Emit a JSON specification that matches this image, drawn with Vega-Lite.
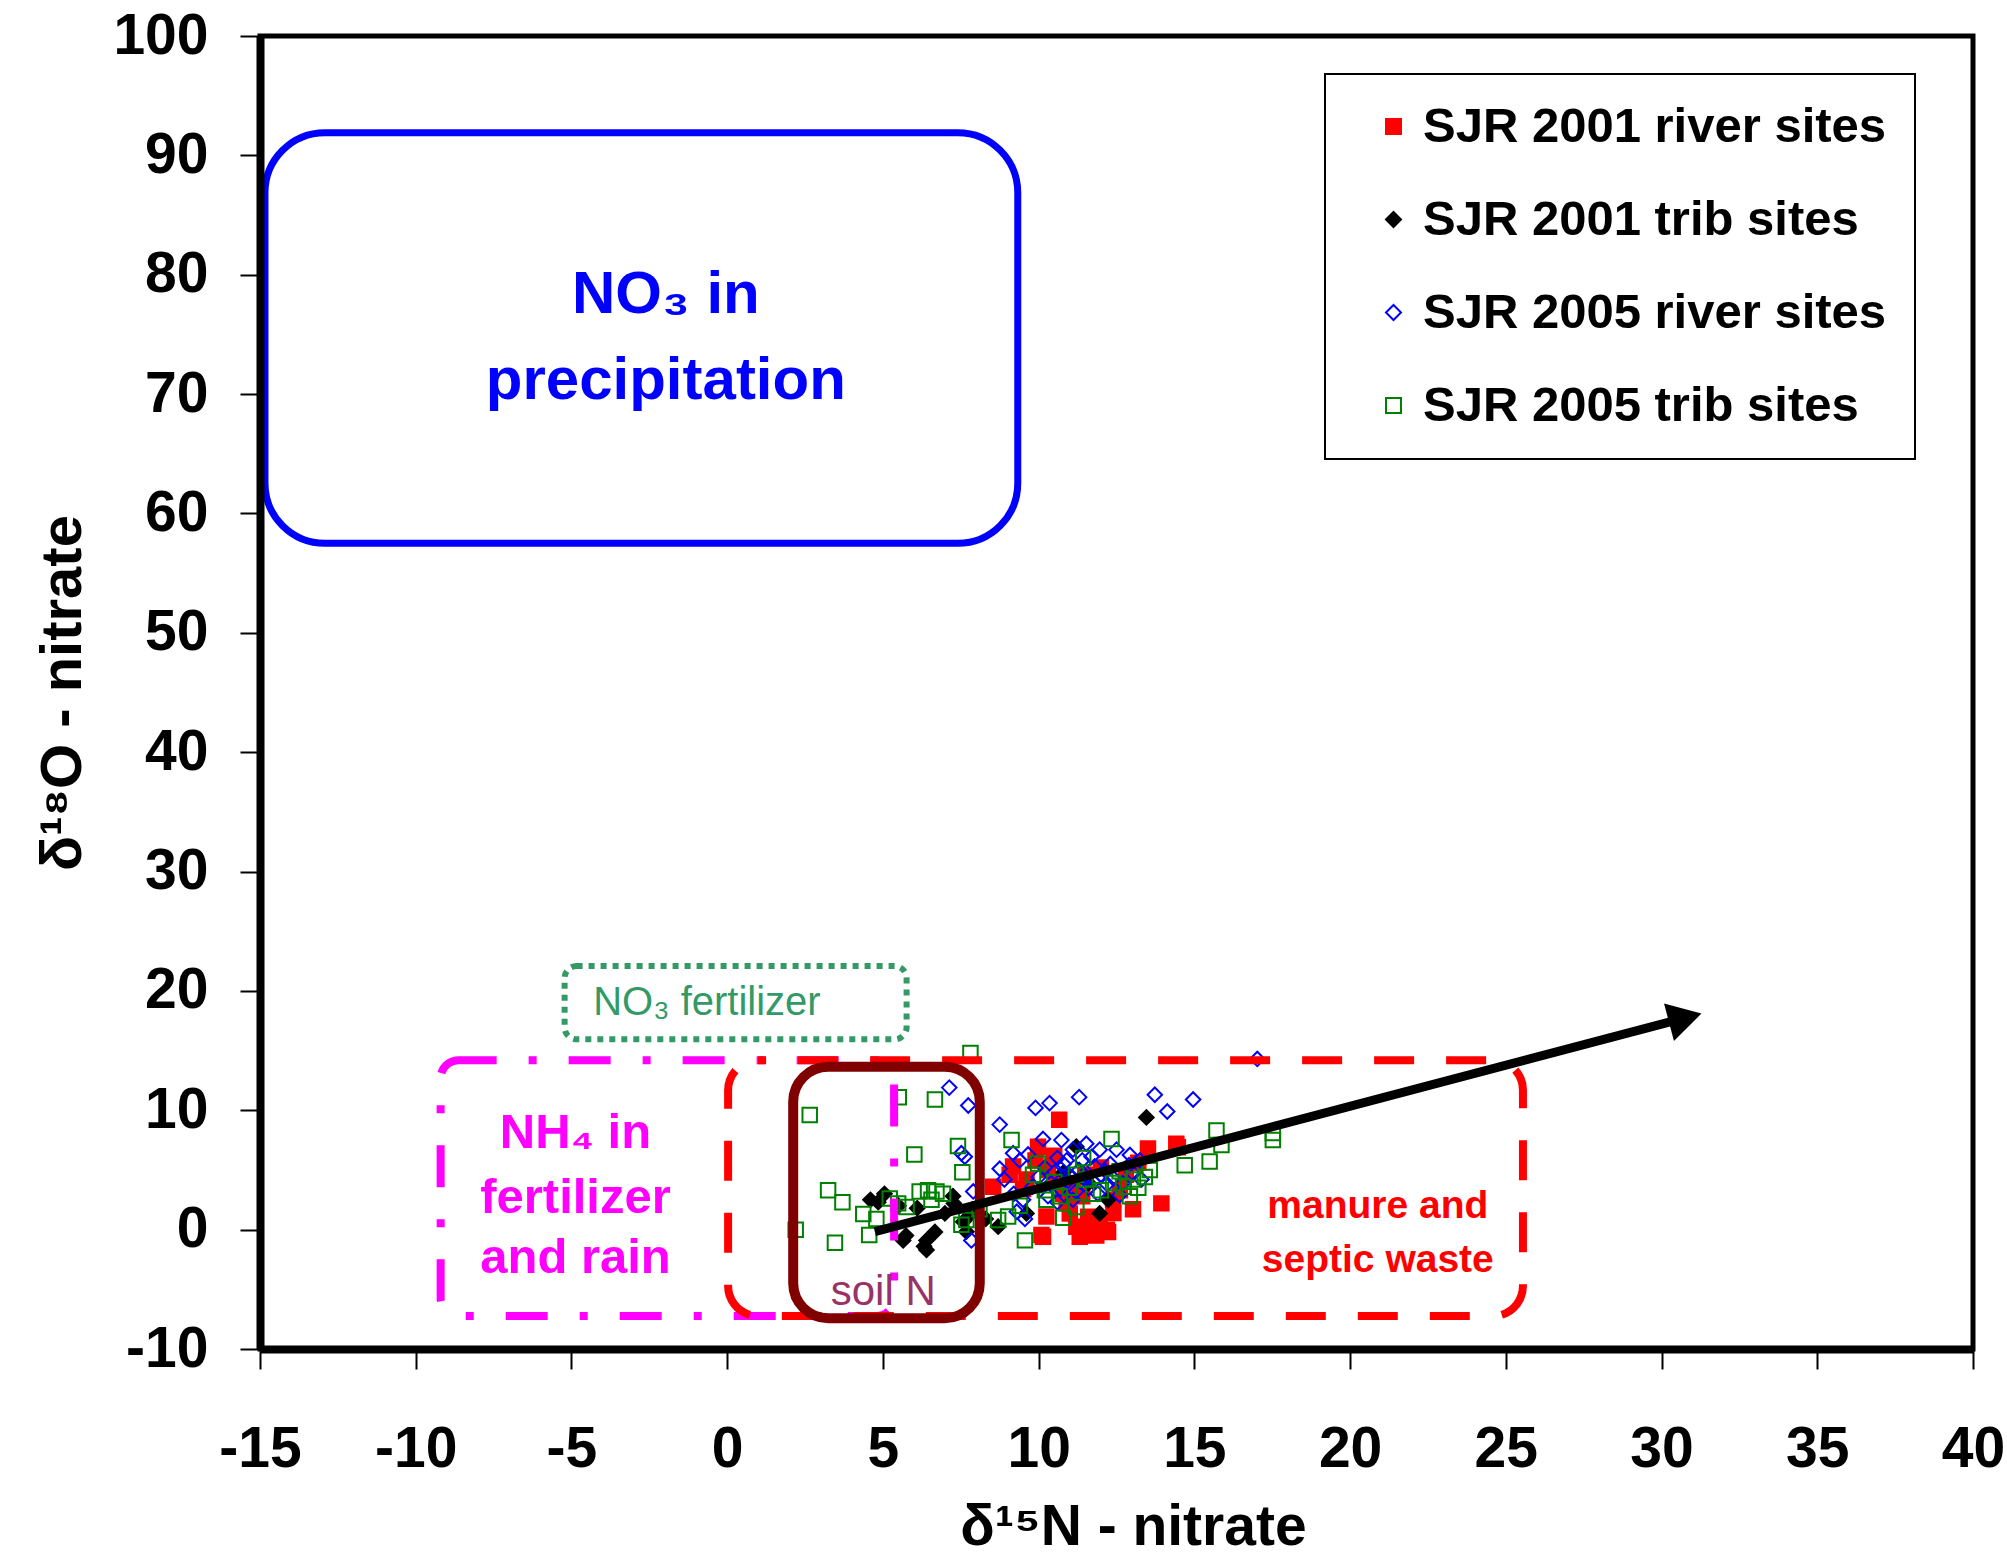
{
  "$schema": "https://vega.github.io/schema/vega-lite/v6.json",
  "width": 1713,
  "height": 1313,
  "autosize": {"type": "none"},
  "padding": {"left": 260, "top": 36, "right": 34, "bottom": 210},
  "background": "white",
  "config": {
    "font": "Liberation Sans",
    "view": {"stroke": "black", "strokeWidth": 5},
    "legend": {
      "orient": "none",
      "legendX": 1065,
      "legendY": 38,
      "strokeColor": "black",
      "strokeWidth": 2,
      "fillColor": "white",
      "padding": 28,
      "labelFont": "Liberation Sans",
      "labelFontSize": 49,
      "labelFontWeight": "bold",
      "labelColor": "black",
      "labelLimit": 0,
      "symbolSize": 225,
      "symbolStrokeWidth": 2,
      "rowPadding": 43,
      "symbolOffset": 16,
      "labelOffset": 5
    }
  },
  "datasets": {
    "pts": [
      {"series": "SJR 2001 river sites", "x": 10.66, "y": 9.2},
      {"series": "SJR 2001 river sites", "x": 9.98, "y": 6.95},
      {"series": "SJR 2001 river sites", "x": 9.07, "y": 4.6},
      {"series": "SJR 2001 river sites", "x": 8.54, "y": 3.6},
      {"series": "SJR 2001 river sites", "x": 10.14, "y": -0.6},
      {"series": "SJR 2001 river sites", "x": 10.25, "y": 1.1},
      {"series": "SJR 2001 river sites", "x": 11.21, "y": 0.25},
      {"series": "SJR 2001 river sites", "x": 11.32, "y": -0.6},
      {"series": "SJR 2001 river sites", "x": 11.75, "y": -0.3},
      {"series": "SJR 2001 river sites", "x": 12.23, "y": -0.2},
      {"series": "SJR 2001 river sites", "x": 11.0, "y": 1.36},
      {"series": "SJR 2001 river sites", "x": 11.59, "y": 1.08},
      {"series": "SJR 2001 river sites", "x": 11.96, "y": 0.5},
      {"series": "SJR 2001 river sites", "x": 13.03, "y": 1.7},
      {"series": "SJR 2001 river sites", "x": 13.94, "y": 2.2},
      {"series": "SJR 2001 river sites", "x": 13.51, "y": 6.8},
      {"series": "SJR 2001 river sites", "x": 14.42, "y": 7.2},
      {"series": "SJR 2001 river sites", "x": 9.18, "y": 5.3},
      {"series": "SJR 2001 river sites", "x": 9.61, "y": 4.2},
      {"series": "SJR 2001 river sites", "x": 10.57, "y": 4.2},
      {"series": "SJR 2001 river sites", "x": 10.79, "y": 3.0},
      {"series": "SJR 2001 river sites", "x": 11.11, "y": 3.6},
      {"series": "SJR 2001 river sites", "x": 12.39, "y": 2.5},
      {"series": "SJR 2001 river sites", "x": 12.61, "y": 3.3},
      {"series": "SJR 2001 river sites", "x": 10.09, "y": -0.45},
      {"series": "SJR 2001 river sites", "x": 12.19, "y": 0.0},
      {"series": "SJR 2001 river sites", "x": 14.47, "y": 6.9},
      {"series": "SJR 2001 river sites", "x": 9.9, "y": 5.8},
      {"series": "SJR 2001 river sites", "x": 10.3, "y": 5.0},
      {"series": "SJR 2001 river sites", "x": 11.5, "y": 4.6},
      {"series": "SJR 2001 river sites", "x": 12.0, "y": 5.2},
      {"series": "SJR 2001 river sites", "x": 12.8, "y": 4.6},
      {"series": "SJR 2001 river sites", "x": 10.9, "y": 2.2},
      {"series": "SJR 2001 river sites", "x": 11.4, "y": 2.8},
      {"series": "SJR 2001 river sites", "x": 12.4, "y": 1.4},
      {"series": "SJR 2001 river sites", "x": 13.2, "y": 5.6},
      {"series": "SJR 2001 river sites", "x": 9.5, "y": 3.4},
      {"series": "SJR 2001 river sites", "x": 10.5, "y": 6.2},
      {"series": "SJR 2001 river sites", "x": 11.85, "y": -0.5},
      {"series": "SJR 2001 river sites", "x": 11.45, "y": 0.1},
      {"series": "SJR 2001 trib sites", "x": 13.46, "y": 9.4},
      {"series": "SJR 2001 trib sites", "x": 4.6, "y": 2.5},
      {"series": "SJR 2001 trib sites", "x": 5.05, "y": 3.0},
      {"series": "SJR 2001 trib sites", "x": 4.85, "y": 2.3},
      {"series": "SJR 2001 trib sites", "x": 5.65, "y": -0.9},
      {"series": "SJR 2001 trib sites", "x": 6.4, "y": -0.9},
      {"series": "SJR 2001 trib sites", "x": 6.4, "y": -1.7},
      {"series": "SJR 2001 trib sites", "x": 6.67, "y": -0.2},
      {"series": "SJR 2001 trib sites", "x": 5.74, "y": -0.5},
      {"series": "SJR 2001 trib sites", "x": 6.32, "y": -1.4},
      {"series": "SJR 2001 trib sites", "x": 7.25, "y": 2.8},
      {"series": "SJR 2001 trib sites", "x": 7.28, "y": 2.2},
      {"series": "SJR 2001 trib sites", "x": 7.58, "y": 0.66},
      {"series": "SJR 2001 trib sites", "x": 7.68, "y": -0.17},
      {"series": "SJR 2001 trib sites", "x": 7.84, "y": 1.36},
      {"series": "SJR 2001 trib sites", "x": 6.99, "y": 1.36},
      {"series": "SJR 2001 trib sites", "x": 8.7, "y": 0.25},
      {"series": "SJR 2001 trib sites", "x": 11.96, "y": 1.36},
      {"series": "SJR 2001 trib sites", "x": 12.23, "y": 2.5},
      {"series": "SJR 2001 trib sites", "x": 9.61, "y": 1.36},
      {"series": "SJR 2001 trib sites", "x": 11.21, "y": 6.95},
      {"series": "SJR 2001 trib sites", "x": 5.5, "y": 2.0},
      {"series": "SJR 2001 trib sites", "x": 6.1, "y": 1.8},
      {"series": "SJR 2001 trib sites", "x": 10.8, "y": 4.8},
      {"series": "SJR 2001 trib sites", "x": 11.6, "y": 3.9},
      {"series": "SJR 2001 trib sites", "x": 8.3, "y": 0.9},
      {"series": "SJR 2005 river sites", "x": 7.13, "y": 11.9},
      {"series": "SJR 2005 river sites", "x": 7.74, "y": 10.4},
      {"series": "SJR 2005 river sites", "x": 8.75, "y": 8.8},
      {"series": "SJR 2005 river sites", "x": 9.9, "y": 10.2},
      {"series": "SJR 2005 river sites", "x": 10.35, "y": 10.6},
      {"series": "SJR 2005 river sites", "x": 11.3, "y": 11.1},
      {"series": "SJR 2005 river sites", "x": 13.73, "y": 11.3},
      {"series": "SJR 2005 river sites", "x": 14.13, "y": 9.9},
      {"series": "SJR 2005 river sites", "x": 14.96, "y": 10.9},
      {"series": "SJR 2005 river sites", "x": 17.02, "y": 14.3},
      {"series": "SJR 2005 river sites", "x": 10.14, "y": 7.6},
      {"series": "SJR 2005 river sites", "x": 10.73, "y": 7.5},
      {"series": "SJR 2005 river sites", "x": 7.52, "y": 6.4},
      {"series": "SJR 2005 river sites", "x": 7.63, "y": 6.1},
      {"series": "SJR 2005 river sites", "x": 8.75, "y": 5.1},
      {"series": "SJR 2005 river sites", "x": 7.9, "y": 3.2},
      {"series": "SJR 2005 river sites", "x": 7.84, "y": -0.9},
      {"series": "SJR 2005 river sites", "x": 9.56, "y": 0.9},
      {"series": "SJR 2005 river sites", "x": 9.18, "y": 6.4},
      {"series": "SJR 2005 river sites", "x": 9.39, "y": 5.8},
      {"series": "SJR 2005 river sites", "x": 9.66, "y": 6.3},
      {"series": "SJR 2005 river sites", "x": 11.53, "y": 7.2},
      {"series": "SJR 2005 river sites", "x": 11.96, "y": 6.7},
      {"series": "SJR 2005 river sites", "x": 12.5, "y": 6.7},
      {"series": "SJR 2005 river sites", "x": 12.93, "y": 6.25},
      {"series": "SJR 2005 river sites", "x": 13.25, "y": 5.8},
      {"series": "SJR 2005 river sites", "x": 11.1, "y": 6.7},
      {"series": "SJR 2005 river sites", "x": 10.9, "y": 5.8},
      {"series": "SJR 2005 river sites", "x": 10.2, "y": 5.2},
      {"series": "SJR 2005 river sites", "x": 10.5, "y": 4.8},
      {"series": "SJR 2005 river sites", "x": 10.8, "y": 5.5},
      {"series": "SJR 2005 river sites", "x": 11.0, "y": 4.5},
      {"series": "SJR 2005 river sites", "x": 11.3, "y": 5.0},
      {"series": "SJR 2005 river sites", "x": 11.5, "y": 4.2},
      {"series": "SJR 2005 river sites", "x": 11.8, "y": 5.3},
      {"series": "SJR 2005 river sites", "x": 12.0, "y": 4.6},
      {"series": "SJR 2005 river sites", "x": 12.2, "y": 3.8},
      {"series": "SJR 2005 river sites", "x": 10.4, "y": 3.9},
      {"series": "SJR 2005 river sites", "x": 10.7, "y": 3.4},
      {"series": "SJR 2005 river sites", "x": 11.2, "y": 3.2},
      {"series": "SJR 2005 river sites", "x": 11.6, "y": 3.5},
      {"series": "SJR 2005 river sites", "x": 11.9, "y": 3.0},
      {"series": "SJR 2005 river sites", "x": 12.4, "y": 4.3},
      {"series": "SJR 2005 river sites", "x": 12.7, "y": 3.9},
      {"series": "SJR 2005 river sites", "x": 13.0, "y": 4.8},
      {"series": "SJR 2005 river sites", "x": 13.3, "y": 4.2},
      {"series": "SJR 2005 river sites", "x": 10.0, "y": 4.4},
      {"series": "SJR 2005 river sites", "x": 9.8, "y": 3.6},
      {"series": "SJR 2005 river sites", "x": 10.3, "y": 2.8},
      {"series": "SJR 2005 river sites", "x": 11.4, "y": 5.8},
      {"series": "SJR 2005 river sites", "x": 12.3, "y": 5.5},
      {"series": "SJR 2005 river sites", "x": 11.1, "y": 2.5},
      {"series": "SJR 2005 river sites", "x": 12.6, "y": 2.9},
      {"series": "SJR 2005 river sites", "x": 9.5, "y": 2.5},
      {"series": "SJR 2005 river sites", "x": 10.6, "y": 6.0},
      {"series": "SJR 2005 river sites", "x": 11.7, "y": 6.1},
      {"series": "SJR 2005 river sites", "x": 12.9, "y": 5.4},
      {"series": "SJR 2005 river sites", "x": 8.9, "y": 4.2},
      {"series": "SJR 2005 river sites", "x": 9.2, "y": 3.0},
      {"series": "SJR 2005 river sites", "x": 10.95, "y": 4.1},
      {"series": "SJR 2005 river sites", "x": 11.45, "y": 4.6},
      {"series": "SJR 2005 river sites", "x": 11.75, "y": 4.0},
      {"series": "SJR 2005 river sites", "x": 12.15, "y": 4.9},
      {"series": "SJR 2005 river sites", "x": 10.6, "y": 2.3},
      {"series": "SJR 2005 river sites", "x": 9.3, "y": 1.5},
      {"series": "SJR 2005 trib sites", "x": 2.65, "y": 9.6},
      {"series": "SJR 2005 trib sites", "x": 5.51, "y": 11.1},
      {"series": "SJR 2005 trib sites", "x": 6.67, "y": 10.9},
      {"series": "SJR 2005 trib sites", "x": 7.81, "y": 14.8},
      {"series": "SJR 2005 trib sites", "x": 6.01, "y": 6.3},
      {"series": "SJR 2005 trib sites", "x": 7.41, "y": 7.0},
      {"series": "SJR 2005 trib sites", "x": 7.55, "y": 4.8},
      {"series": "SJR 2005 trib sites", "x": 3.24, "y": 3.3},
      {"series": "SJR 2005 trib sites", "x": 3.7, "y": 2.3},
      {"series": "SJR 2005 trib sites", "x": 4.37, "y": 1.3},
      {"series": "SJR 2005 trib sites", "x": 4.79, "y": 0.9},
      {"series": "SJR 2005 trib sites", "x": 4.56, "y": -0.45},
      {"series": "SJR 2005 trib sites", "x": 3.46, "y": -1.1},
      {"series": "SJR 2005 trib sites", "x": 2.2, "y": 0.0},
      {"series": "SJR 2005 trib sites", "x": 5.22, "y": 2.6},
      {"series": "SJR 2005 trib sites", "x": 5.49, "y": 2.2},
      {"series": "SJR 2005 trib sites", "x": 5.76, "y": 1.9},
      {"series": "SJR 2005 trib sites", "x": 6.18, "y": 3.2},
      {"series": "SJR 2005 trib sites", "x": 6.45, "y": 3.3},
      {"series": "SJR 2005 trib sites", "x": 6.72, "y": 3.2},
      {"series": "SJR 2005 trib sites", "x": 6.93, "y": 3.0},
      {"series": "SJR 2005 trib sites", "x": 6.56, "y": 2.5},
      {"series": "SJR 2005 trib sites", "x": 9.13, "y": 7.5},
      {"series": "SJR 2005 trib sites", "x": 9.02, "y": 1.1},
      {"series": "SJR 2005 trib sites", "x": 8.7, "y": 0.8},
      {"series": "SJR 2005 trib sites", "x": 9.56, "y": -0.9},
      {"series": "SJR 2005 trib sites", "x": 9.98, "y": 5.55},
      {"series": "SJR 2005 trib sites", "x": 9.82, "y": 4.6},
      {"series": "SJR 2005 trib sites", "x": 11.43, "y": 6.0},
      {"series": "SJR 2005 trib sites", "x": 12.34, "y": 7.6},
      {"series": "SJR 2005 trib sites", "x": 15.71, "y": 8.3},
      {"series": "SJR 2005 trib sites", "x": 15.87, "y": 7.1},
      {"series": "SJR 2005 trib sites", "x": 14.69, "y": 5.4},
      {"series": "SJR 2005 trib sites", "x": 15.49, "y": 5.7},
      {"series": "SJR 2005 trib sites", "x": 17.52, "y": 8.1},
      {"series": "SJR 2005 trib sites", "x": 17.52, "y": 7.5},
      {"series": "SJR 2005 trib sites", "x": 13.41, "y": 4.4},
      {"series": "SJR 2005 trib sites", "x": 13.57, "y": 5.0},
      {"series": "SJR 2005 trib sites", "x": 13.03, "y": 4.2},
      {"series": "SJR 2005 trib sites", "x": 12.93, "y": 2.8},
      {"series": "SJR 2005 trib sites", "x": 10.68, "y": 2.8},
      {"series": "SJR 2005 trib sites", "x": 10.79, "y": 1.0},
      {"series": "SJR 2005 trib sites", "x": 11.21, "y": 1.9},
      {"series": "SJR 2005 trib sites", "x": 10.25, "y": 2.5},
      {"series": "SJR 2005 trib sites", "x": 11.75, "y": 3.0},
      {"series": "SJR 2005 trib sites", "x": 12.39, "y": 3.9},
      {"series": "SJR 2005 trib sites", "x": 12.71, "y": 3.6},
      {"series": "SJR 2005 trib sites", "x": 7.68, "y": 0.8},
      {"series": "SJR 2005 trib sites", "x": 7.52, "y": 0.4},
      {"series": "SJR 2005 trib sites", "x": 10.5, "y": 4.0},
      {"series": "SJR 2005 trib sites", "x": 11.0, "y": 3.5},
      {"series": "SJR 2005 trib sites", "x": 11.5, "y": 4.2},
      {"series": "SJR 2005 trib sites", "x": 12.0, "y": 3.3},
      {"series": "SJR 2005 trib sites", "x": 11.2, "y": 4.6},
      {"series": "SJR 2005 trib sites", "x": 12.6, "y": 4.9},
      {"series": "SJR 2005 trib sites", "x": 10.2, "y": 3.3},
      {"series": "SJR 2005 trib sites", "x": 13.2, "y": 3.5},
      {"series": "SJR 2005 trib sites", "x": 8.1, "y": 1.7},
      {"series": "SJR 2005 trib sites", "x": 9.4, "y": 2.0}
    ],
    "boxes": [
      {"id": "precip", "x": -14.84, "x2": 9.33, "y": 91.9, "y2": 57.5},
      {"id": "fert", "x": -5.22, "x2": 5.76, "y": 22.08, "y2": 15.94},
      {"id": "nh4", "x": -9.2, "x2": 5.36, "y": 14.2, "y2": -7.24},
      {"id": "manure", "x": 0.03, "x2": 25.55, "y": 14.2, "y2": -7.24},
      {"id": "soil", "x": 2.12, "x2": 8.11, "y": 13.64, "y2": -7.43}
    ],
    "notes": [
      {"id": "precip", "t": "NO₃ in", "x": -1.97, "y": 76.8},
      {"id": "precip", "t": "precipitation", "x": -1.97, "y": 69.6},
      {"id": "fert", "t": "NO₃ fertilizer", "x": -0.65, "y": 17.97},
      {"id": "nh4", "t": "NH₄ in", "x": -4.87, "y": 6.81},
      {"id": "nh4", "t": "fertilizer", "x": -4.87, "y": 1.37},
      {"id": "nh4", "t": "and rain", "x": -4.87, "y": -3.66},
      {"id": "manure", "t": "manure and", "x": 20.89, "y": 0.95},
      {"id": "manure", "t": "septic waste", "x": 20.89, "y": -3.53},
      {"id": "soil", "t": "soil N", "x": 5.01, "y": -6.31}
    ],
    "arrow": [
      {"x": 4.74, "y": -0.17},
      {"x": 30.76, "y": 17.74}
    ],
    "head": [
      {"x": 30.76, "y": 17.74}
    ]
  },
  "encoding": {
    "x": {
      "field": "x",
      "type": "quantitative",
      "scale": {"domain": [-15, 40], "nice": false, "zero": false},
      "axis": {
        "title": "δ¹⁵N - nitrate",
        "values": [-15, -10, -5, 0, 5, 10, 15, 20, 25, 30, 35, 40],
        "labelExpr": "toString(datum.value)",
        "grid": false,
        "domainColor": "black",
        "domainWidth": 8,
        "tickColor": "black",
        "tickWidth": 2,
        "tickSize": 20,
        "labelPadding": 52,
        "labelFontSize": 57,
        "labelFontWeight": "bold",
        "labelColor": "black",
        "labelFlush": false,
        "labelOverlap": false,
        "titleFontSize": 57,
        "titleFontWeight": "bold",
        "titleColor": "black",
        "titleX": 873,
        "titleY": 195,
        "titleAlign": "center",
        "titleBaseline": "alphabetic",
        "zindex": 1
      }
    },
    "y": {
      "field": "y",
      "type": "quantitative",
      "scale": {"domain": [-10, 100], "nice": false, "zero": false},
      "axis": {
        "title": "δ¹⁸O - nitrate",
        "values": [-10, 0, 10, 20, 30, 40, 50, 60, 70, 80, 90, 100],
        "labelExpr": "toString(datum.value)",
        "grid": false,
        "domainColor": "black",
        "domainWidth": 8,
        "tickColor": "black",
        "tickWidth": 2,
        "tickSize": 20,
        "labelPadding": 32,
        "labelFontSize": 57,
        "labelFontWeight": "bold",
        "labelColor": "black",
        "labelFlush": false,
        "labelOverlap": false,
        "titleFontSize": 58,
        "titleFontWeight": "bold",
        "titleColor": "black",
        "titlePadding": 20,
        "zindex": 1
      }
    }
  },
  "layer": [
    {
      "data": {"name": "pts"},
      "mark": {"type": "point", "filled": true, "opacity": 1, "size": 210, "strokeWidth": 2},
      "encoding": {
        "shape": {
          "field": "series", "type": "nominal", "title": null,
          "scale": {"domain": ["SJR 2001 river sites", "SJR 2001 trib sites", "SJR 2005 river sites", "SJR 2005 trib sites"], "range": ["square", "diamond", "diamond", "square"]}
        },
        "fill": {
          "field": "series", "type": "nominal", "title": null,
          "scale": {"domain": ["SJR 2001 river sites", "SJR 2001 trib sites", "SJR 2005 river sites", "SJR 2005 trib sites"], "range": ["#ff0000", "#000000", "transparent", "transparent"]}
        },
        "stroke": {
          "field": "series", "type": "nominal", "title": null,
          "scale": {"domain": ["SJR 2001 river sites", "SJR 2001 trib sites", "SJR 2005 river sites", "SJR 2005 trib sites"], "range": ["#ff0000", "#000000", "#0000ff", "#008000"]}
        }
      }
    },
    {
      "data": {"name": "boxes"},
      "transform": [{"filter": "datum.id === 'nh4'"}],
      "mark": {"type": "rect", "fill": "transparent", "stroke": "#ff00ff", "strokeWidth": 8, "strokeDash": [42, 32, 8, 32], "strokeDashOffset": 118, "cornerRadius": 18},
      "encoding": {"x2": {"field": "x2"}, "y2": {"field": "y2"}}
    },
    {
      "data": {"name": "boxes"},
      "transform": [{"filter": "datum.id === 'manure'"}],
      "mark": {"type": "rect", "fill": "transparent", "stroke": "#ff0000", "strokeWidth": 8, "strokeDash": [40, 32], "strokeDashOffset": 32, "cornerRadius": 30},
      "encoding": {"x2": {"field": "x2"}, "y2": {"field": "y2"}}
    },
    {
      "data": {"name": "boxes"},
      "transform": [{"filter": "datum.id === 'fert'"}],
      "mark": {"type": "rect", "fill": "transparent", "stroke": "#339966", "strokeWidth": 6, "strokeDash": [6, 6], "cornerRadius": 12},
      "encoding": {"x2": {"field": "x2"}, "y2": {"field": "y2"}}
    },
    {
      "data": {"name": "boxes"},
      "transform": [{"filter": "datum.id === 'soil'"}],
      "mark": {"type": "rect", "fill": "transparent", "stroke": "#800000", "strokeWidth": 10, "cornerRadius": 35},
      "encoding": {"x2": {"field": "x2"}, "y2": {"field": "y2"}}
    },
    {
      "data": {"name": "boxes"},
      "transform": [{"filter": "datum.id === 'precip'"}],
      "mark": {"type": "rect", "fill": "transparent", "stroke": "#0000ff", "strokeWidth": 7, "cornerRadius": 60},
      "encoding": {"x2": {"field": "x2"}, "y2": {"field": "y2"}}
    },
    {
      "data": {"name": "arrow"},
      "mark": {"type": "line", "color": "black", "strokeWidth": 9, "strokeCap": "butt"},
      "encoding": {}
    },
    {
      "data": {"name": "head"},
      "mark": {"type": "point", "shape": "triangle-right", "filled": true, "color": "black", "opacity": 1, "size": 1500, "angle": 345.2},
      "encoding": {}
    },
    {
      "data": {"name": "notes"},
      "transform": [{"filter": "datum.id === 'precip'"}],
      "mark": {"type": "text", "align": "center", "baseline": "alphabetic", "color": "#0000ff", "fontSize": 60, "fontWeight": "bold"},
      "encoding": {"text": {"field": "t"}}
    },
    {
      "data": {"name": "notes"},
      "transform": [{"filter": "datum.id === 'fert'"}],
      "mark": {"type": "text", "align": "center", "baseline": "alphabetic", "color": "#339966", "fontSize": 40, "fontWeight": "normal"},
      "encoding": {"text": {"field": "t"}}
    },
    {
      "data": {"name": "notes"},
      "transform": [{"filter": "datum.id === 'nh4'"}],
      "mark": {"type": "text", "align": "center", "baseline": "alphabetic", "color": "#ff00ff", "fontSize": 49, "fontWeight": "bold"},
      "encoding": {"text": {"field": "t"}}
    },
    {
      "data": {"name": "notes"},
      "transform": [{"filter": "datum.id === 'manure'"}],
      "mark": {"type": "text", "align": "center", "baseline": "alphabetic", "color": "#ff0000", "fontSize": 39, "fontWeight": "bold"},
      "encoding": {"text": {"field": "t"}}
    },
    {
      "data": {"name": "notes"},
      "transform": [{"filter": "datum.id === 'soil'"}],
      "mark": {"type": "text", "align": "center", "baseline": "alphabetic", "color": "#993366", "fontSize": 42, "fontWeight": "normal"},
      "encoding": {"text": {"field": "t"}}
    }
  ]
}
